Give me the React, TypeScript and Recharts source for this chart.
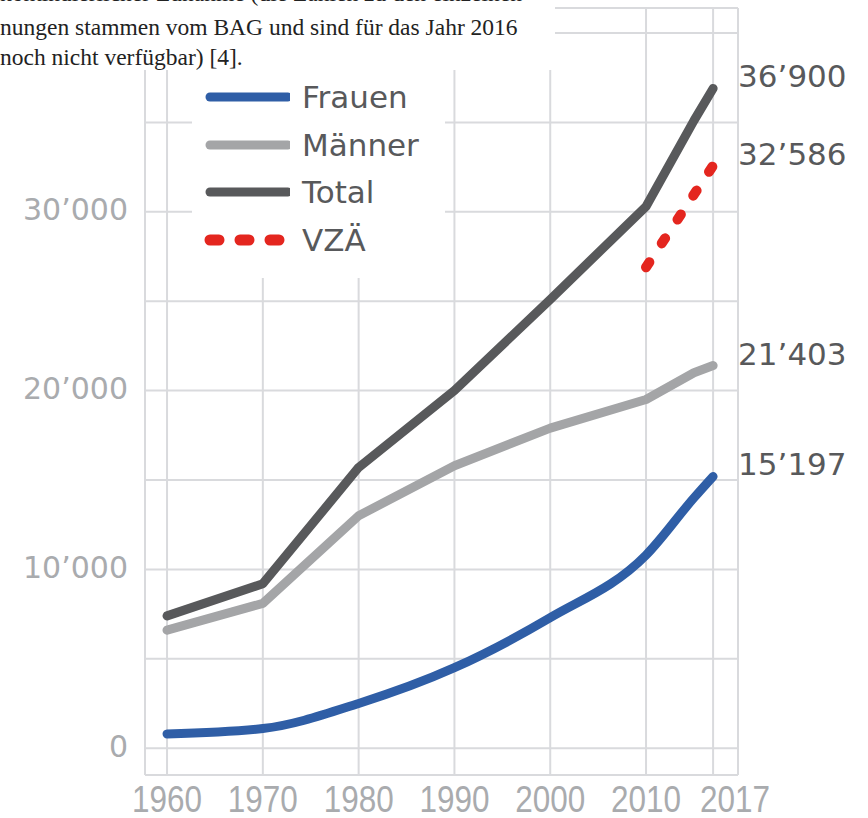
import { LineChart, Line, XAxis, YAxis, CartesianGrid } from 'recharts'

// values (Ärztinnen und Ärzte in der Schweiz)
const years = [1960, 1970, 1980, 1990, 2000, 2010, 2015, 2017]
const frauen = [800, 1100, 2500, 4500, 7300, 10800, 14000, 15197]
const maenner = [6600, 8100, 13000, 15800, 17900, 19500, 21000, 21403]
const total = [7400, 9200, 15700, 20000, 25100, 30300, 35100, 36900]

const vzaYears = [2010, 2017]
const vza = [26900, 32586]

const xTicks = [1960, 1970, 1980, 1990, 2000, 2010, 2017]
const yTicks = [0, 5000, 10000, 15000, 20000, 25000, 30000, 35000, 40000]
const yLabels = [0, 10000, 20000, 30000]

const textLines = [
  'kontinuierlicher Zunahme (die Zahlen zu den einzelnen',
  'nungen stammen vom BAG und sind für das Jahr 2016',
  'noch nicht verfügbar) [4].',
]

const BLUE = '#2f5ea6'
const LIGHT = '#a4a5a7'
const DARK = '#58595b'
const RED = '#e4261f'
const TICK_GRAY = '#a9abae'
const SANS = '"DejaVu Sans", sans-serif'

const legendItems = [
  { name: 'Frauen', color: BLUE, dashed: false },
  { name: 'Männer', color: LIGHT, dashed: false },
  { name: 'Total', color: DARK, dashed: false },
  { name: 'VZÄ', color: RED, dashed: true },
]

const formatSwiss = (v: number) => String(v).replace(/\B(?=(\d{3})+(?!\d))/g, '’')

const mainData = years.map((year, i) => ({
  year,
  frauen: frauen[i],
  maenner: maenner[i],
  total: total[i],
}))
const vzaData = vzaYears.map((year, i) => ({ year, vza: vza[i] }))

const XTick = ({ x, y, payload }: any) => {
  // the last label is pushed right so it does not run into 2010
  const last = payload.value === xTicks[xTicks.length - 1]
  return (
    <text
      x={x + (last ? 22 : 0)}
      y={y + 24}
      textAnchor="middle"
      dominantBaseline="central"
      fontFamily='"Liberation Sans Narrow", "Liberation Sans", sans-serif'
      fontSize={37}
      textLength={70}
      lengthAdjust="spacingAndGlyphs"
      fill={TICK_GRAY}
    >
      {payload.value}
    </text>
  )
}

const YTick = ({ x, y, payload }: any) => {
  if (!yLabels.includes(payload.value)) return <g />
  return (
    <text
      x={x - 17}
      y={y - 2}
      textAnchor="end"
      dominantBaseline="central"
      fontFamily={SANS}
      fontSize={30}
      fill={TICK_GRAY}
    >
      {formatSwiss(payload.value)}
    </text>
  )
}

// only the last point of each series gets its value written next to it
const endLabel = (count: number) => (props: any) => {
  const { x, y, index, value } = props
  if (index !== count - 1) return <g key={index} />
  return (
    <text
      key={index}
      x={x + 25}
      y={y - 12}
      dominantBaseline="central"
      fontFamily={SANS}
      fontSize={31}
      fill={DARK}
    >
      {formatSwiss(value)}
    </text>
  )
}

export default function App() {
  return (
    <div
      style={{
        position: 'absolute',
        left: 0,
        top: 0,
        width: 868,
        height: 818,
        overflow: 'hidden',
        background: '#fff',
      }}
    >
      <LineChart
        width={868}
        height={818}
        data={mainData}
        margin={{ top: 8, right: 130, bottom: 0, left: 0 }}
      >
        <CartesianGrid stroke="#d9dadd" strokeWidth={2} />
        <XAxis
          dataKey="year"
          type="number"
          domain={[1957.7, 2019.6]}
          allowDataOverflow
          ticks={xTicks}
          interval={0}
          height={43}
          axisLine={false}
          tickLine={false}
          tickSize={0}
          tickMargin={0}
          tick={<XTick />}
        />
        <YAxis
          type="number"
          domain={[-1500, 41400]}
          allowDataOverflow
          ticks={yTicks}
          interval={0}
          width={145}
          axisLine={false}
          tickLine={false}
          tickSize={0}
          tickMargin={0}
          tick={<YTick />}
        />
        <Line
          dataKey="maenner"
          stroke={LIGHT}
          strokeWidth={9}
          strokeLinejoin="round"
          strokeLinecap="round"
          dot={false}
          activeDot={false}
          isAnimationActive={false}
          label={endLabel(years.length)}
        />
        <Line
          dataKey="total"
          stroke={DARK}
          strokeWidth={9}
          strokeLinejoin="round"
          strokeLinecap="round"
          dot={false}
          activeDot={false}
          isAnimationActive={false}
          label={endLabel(years.length)}
        />
        <Line
          dataKey="frauen"
          type="monotone"
          stroke={BLUE}
          strokeWidth={9}
          strokeLinejoin="round"
          strokeLinecap="round"
          dot={false}
          activeDot={false}
          isAnimationActive={false}
          label={endLabel(years.length)}
        />
        <Line
          data={vzaData}
          dataKey="vza"
          stroke={RED}
          strokeWidth={10}
          strokeDasharray="6 22.6"
          strokeLinecap="round"
          dot={false}
          activeDot={false}
          isAnimationActive={false}
          label={endLabel(vzaData.length)}
        />
      </LineChart>

      {/* text block from the page, cut at the top */}
      <div
        style={{
          position: 'absolute',
          left: 0,
          top: -18,
          width: 555,
          height: 88,
          background: '#fff',
          fontFamily: '"Liberation Serif", serif',
          fontSize: 23.5,
          lineHeight: '30px',
          color: '#222',
          whiteSpace: 'nowrap',
          overflow: 'hidden',
        }}
      >
        {textLines.map((t, i) => (
          <div key={t} style={{ marginTop: i === 0 ? -4 : 0, marginBottom: i === 0 ? 4 : 0 }}>
            {t}
          </div>
        ))}
      </div>

      {/* legend box */}
      <div
        style={{
          position: 'absolute',
          left: 192,
          top: 70,
          width: 253,
          height: 208,
          background: '#fff',
        }}
      >
        {legendItems.map((item, i) => (
          <div
            key={item.name}
            style={{
              position: 'absolute',
              left: 8,
              top: 27 + i * 47.7 - 20,
              height: 40,
              display: 'flex',
              alignItems: 'center',
            }}
          >
            <svg width={90} height={40}>
              <line
                x1={10}
                x2={88}
                y1={20}
                y2={20}
                stroke={item.color}
                strokeWidth={item.dashed ? 11 : 9}
                strokeLinecap="round"
                strokeDasharray={item.dashed ? '9 21' : undefined}
              />
            </svg>
            <span
              style={{
                marginLeft: 12,
                fontFamily: SANS,
                fontSize: 31,
                color: DARK,
                lineHeight: '40px',
              }}
            >
              {item.name}
            </span>
          </div>
        ))}
      </div>
    </div>
  )
}
